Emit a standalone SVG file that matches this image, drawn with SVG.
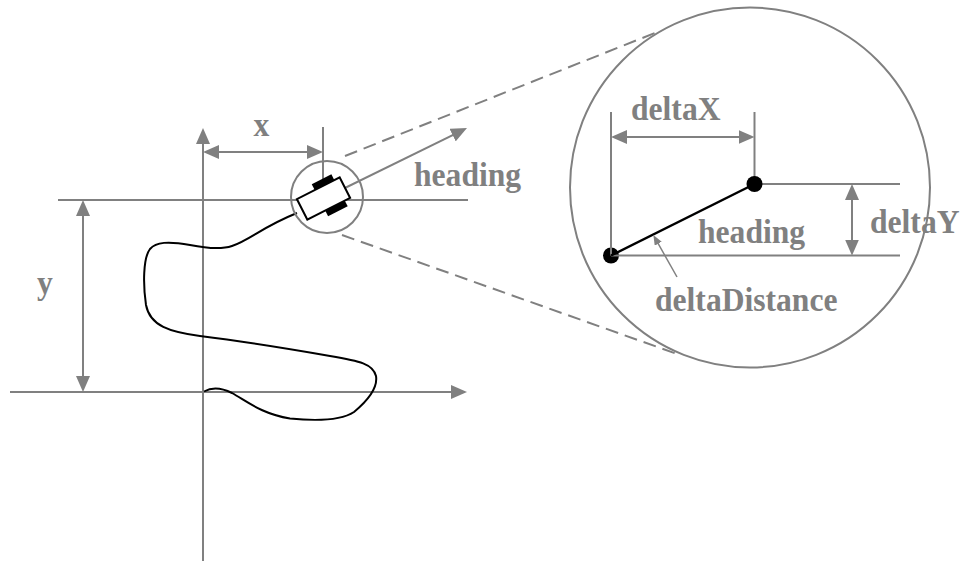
<svg xmlns="http://www.w3.org/2000/svg" width="960" height="561" viewBox="0 0 960 561">
<style>
.g{stroke:#808080;stroke-width:2;fill:none}
.dash{stroke:#808080;stroke-width:2;fill:none;stroke-dasharray:13,7}
.blk{stroke:#000;stroke-width:2;fill:none}
.lbl{font-family:"Liberation Serif","Times New Roman",serif;font-weight:bold;font-size:31.6px;fill:#808080}
</style>
<defs>
<marker id="ah" markerUnits="userSpaceOnUse" markerWidth="16" markerHeight="14" refX="12" refY="7" orient="auto-start-reverse" viewBox="0 0 16 14">
<path d="M0,0 L16,7 L0,14 z" fill="#808080"/>
</marker>
<marker id="ahs" markerUnits="userSpaceOnUse" markerWidth="10" markerHeight="8" refX="7" refY="4" orient="auto" viewBox="0 0 10 8">
<path d="M0,0 L10,4 L0,8 z" fill="#808080"/>
</marker>
</defs>
<rect width="960" height="561" fill="#fff"/>

<g id="axes">
<line class="g" x1="203" y1="561" x2="203" y2="132" marker-end="url(#ah)"/>
<line class="g" x1="10" y1="392" x2="463" y2="392" marker-end="url(#ah)"/>
<line class="g" x1="58" y1="200" x2="468" y2="200"/>
<line class="g" x1="323" y1="127" x2="323" y2="190"/>
</g>

<g id="connectors">
<line class="g" x1="207" y1="152" x2="319" y2="152" marker-start="url(#ah)" marker-end="url(#ah)"/>
<line class="g" x1="83" y1="204" x2="83" y2="388" marker-start="url(#ah)" marker-end="url(#ah)"/>
<line class="g" x1="323.5" y1="198.5" x2="463.4" y2="129.8" marker-end="url(#ah)"/>
<line class="dash" x1="345" y1="156" x2="660" y2="31"/>
<line class="dash" x1="342" y1="235" x2="680" y2="355"/>
</g>

<g id="trajectory">
<path class="blk" d="M 204,391.5 C 212,387 222,388 232,393 C 248,402 262,414 290,418.5 C 315,421 340,421 354,412 C 366,402 378,388 376,376 C 373,364 360,361 330,356 C 290,349 240,341 200,336 C 170,332 150,326 146,305 C 143,285 143,258 150,249 C 156,242 168,241 190,245 C 205,248 220,250 232,246 C 250,240 262,227 297,213"/>
</g>

<g id="small-circle">
<circle class="g" cx="327" cy="197" r="36"/>
</g>

<g id="robot" transform="translate(323.5,198.5) rotate(-27)">
<rect x="-4" y="-18" width="22" height="7" fill="#000"/>
<rect x="-4" y="11" width="22" height="7" fill="#000"/>
<rect x="-24" y="-11.5" width="48" height="23" fill="#fff" stroke="#000" stroke-width="2"/>
</g>

<g id="labels-main">
<text class="lbl" transform="translate(261.5,136) scale(1,1.08)" text-anchor="middle">x</text>
<text class="lbl" transform="translate(45,294) scale(1,1.08)" text-anchor="middle">y</text>
<text class="lbl" transform="translate(414,186) scale(1,1.08)">heading</text>
</g>

<g id="zoom-circle">
<circle class="g" cx="750" cy="187.5" r="180"/>
<circle cx="611" cy="255.5" r="8" fill="#000"/>
<line class="g" x1="611" y1="112" x2="611" y2="255.5"/>
<line class="g" x1="611" y1="255.5" x2="900" y2="255.5"/>
<line class="g" x1="754.5" y1="112" x2="754.5" y2="184"/>
<line class="g" x1="754.5" y1="184" x2="900" y2="184"/>
<line class="g" x1="615" y1="137" x2="750.5" y2="137" marker-start="url(#ah)" marker-end="url(#ah)"/>
<line class="g" x1="852" y1="188" x2="852" y2="251.5" marker-start="url(#ah)" marker-end="url(#ah)"/>
<line stroke="#000" stroke-width="2.5" x1="611" y1="255.5" x2="754.5" y2="184"/>
<circle cx="754.5" cy="184" r="8" fill="#000"/>
<line stroke="#808080" stroke-width="1.5" x1="677" y1="277" x2="654.8" y2="237.6" marker-end="url(#ahs)"/>
<text class="lbl" transform="translate(631,120) scale(1,1.08)">deltaX</text>
<text class="lbl" transform="translate(870,233) scale(1,1.08)">deltaY</text>
<text class="lbl" transform="translate(698,243) scale(1,1.08)">heading</text>
<text class="lbl" transform="translate(655,311) scale(1,1.08)">deltaDistance</text>
</g>
</svg>
